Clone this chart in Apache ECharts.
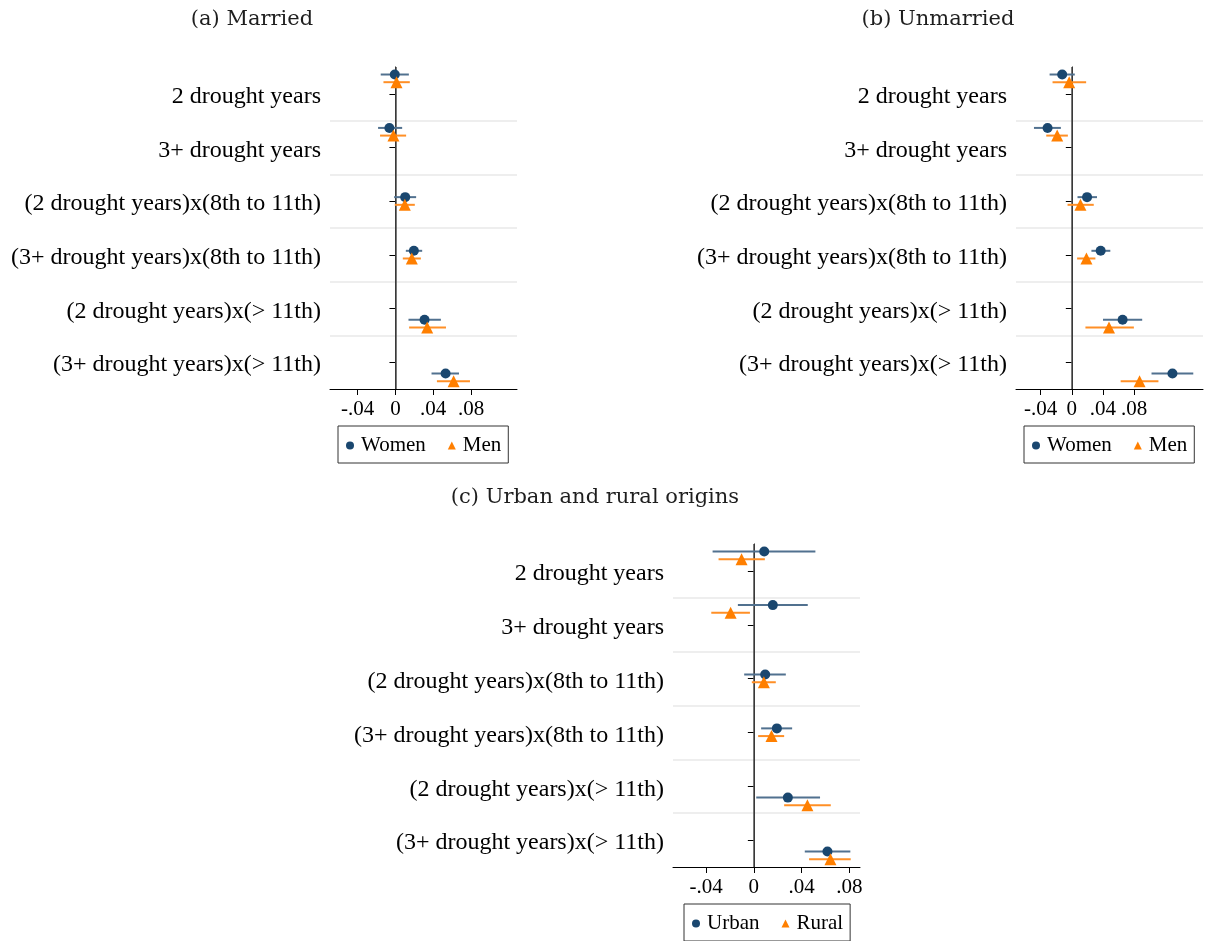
<!DOCTYPE html>
<html><head><meta charset="utf-8">
<script src="https://cdn.jsdelivr.net/npm/echarts@6/dist/echarts.min.js"></script>
<style>html,body{margin:0;padding:0;background:#fff}#c{width:1208px;height:941px}</style>
</head><body><div id="c"></div>
<script>
// ---------- data ----------
const categories = ['2 drought years','3+ drought years','(2 drought years)x(8th to 11th)','(3+ drought years)x(8th to 11th)','(2 drought years)x(> 11th)','(3+ drought years)x(> 11th)'];
const xTickValues = [-0.04, 0, 0.04, 0.08];
const xTickLabels = ['-.04', '0', '.04', '.08'];

// (a) Married
const marriedWomenEst = [-0.0007, -0.0064, 0.0103, 0.0195, 0.0308, 0.0531];
const marriedWomenLo  = [-0.0156, -0.0184, -0.0014, 0.0110, 0.0138, 0.0382];
const marriedWomenHi  = [0.0142, 0.0071, 0.0219, 0.0283, 0.0481, 0.0673];
const marriedMenEst = [0.0011, -0.0021, 0.0099, 0.0173, 0.0336, 0.0616];
const marriedMenLo  = [-0.0127, -0.0163, -0.0007, 0.0078, 0.0145, 0.0439];
const marriedMenHi  = [0.0152, 0.0113, 0.0205, 0.0269, 0.0535, 0.0789];

// (b) Unmarried
const unmarriedWomenEst = [-0.0124, -0.0312, 0.0196, 0.0371, 0.0653, 0.1294];
const unmarriedWomenLo  = [-0.0286, -0.0487, 0.0073, 0.0252, 0.0401, 0.1025];
const unmarriedWomenHi  = [0.0038, -0.0141, 0.0324, 0.0495, 0.0905, 0.1562];
const unmarriedMenEst = [-0.0034, -0.0188, 0.0111, 0.0188, 0.0478, 0.0871];
const unmarriedMenLo  = [-0.0248, -0.0329, -0.0055, 0.0068, 0.0175, 0.0628];
const unmarriedMenHi  = [0.0184, -0.0051, 0.0282, 0.0303, 0.0798, 0.1114];

// (c) Urban and rural origins
const urbanEst = [0.0087, 0.0159, 0.0095, 0.0193, 0.0285, 0.0617];
const urbanLo  = [-0.0346, -0.0134, -0.0081, 0.0061, 0.0020, 0.0427];
const urbanHi  = [0.0516, 0.0452, 0.0268, 0.0321, 0.0555, 0.0809];
const ruralEst = [-0.0103, -0.0195, 0.0084, 0.0148, 0.0449, 0.0642];
const ruralLo  = [-0.0296, -0.0357, -0.0017, 0.0036, 0.0254, 0.0463];
const ruralHi  = [0.0092, -0.0033, 0.0184, 0.0254, 0.0645, 0.0812];

// ---------- layout / style ----------
const rowShift = [-0.36, -0.365, -0.075, -0.075, 0.211, 0.211];
const secondShift = 0.143;
const BLUE = '#1a476f', BLUE_CI = '#51718f';
const ORANGE = '#ff7f00', ORANGE_CI = '#ff8f26';
const FONT = '"Liberation Serif", "Times New Roman", serif';
const TITLE_FONT = '"DejaVu Serif", serif';

const panels = [
  {title:'(a) Married', tx:252, ty:20, grid:{left:330, top:67, width:187, height:322},
   xmin:-0.0693, xmax:0.1287, s:[['Women', marriedWomenEst, marriedWomenLo, marriedWomenHi],['Men', marriedMenEst, marriedMenLo, marriedMenHi]],
   legend:{left:338, top:426}},
  {title:'(b) Unmarried', tx:938, ty:20, grid:{left:1016, top:67, width:187, height:322},
   xmin:-0.0718, xmax:0.1687, s:[['Women', unmarriedWomenEst, unmarriedWomenLo, unmarriedWomenHi],['Men', unmarriedMenEst, unmarriedMenLo, unmarriedMenHi]],
   legend:{left:1024, top:426}},
  {title:'(c) Urban and rural origins', tx:595, ty:498, grid:{left:673, top:544, width:187, height:323},
   xmin:-0.0678, xmax:0.089, s:[['Urban', urbanEst, urbanLo, urbanHi],['Rural', ruralEst, ruralLo, ruralHi]],
   legend:{left:684, top:904}}
];

const option = {
  animation:false, backgroundColor:'#fff',
  grid:[], xAxis:[], yAxis:[], series:[], legend:[], graphic:[]
};

panels.forEach((p, pi) => {
  option.graphic.push({type:'text', x:p.tx, y:p.ty, style:{text:p.title, fill:'#1e1e1e', font:'21px ' + TITLE_FONT, textAlign:'center', textVerticalAlign:'middle'}});
  option.grid.push(Object.assign({containLabel:false}, p.grid));
  option.xAxis.push({
    type:'value', gridIndex:pi, min:p.xmin, max:p.xmax,
    axisLine:{show:true, onZero:false, lineStyle:{color:'#000', width:1}},
    axisTick:{show:true, length:6, customValues:xTickValues, lineStyle:{color:'#000'}},
    axisLabel:{show:true, customValues:xTickValues, fontFamily:FONT, fontSize:21, color:'#000', margin:10,
      formatter:v => { const i = xTickValues.findIndex(t => Math.abs(t - v) < 1e-9); return i >= 0 ? xTickLabels[i] : ''; }},
    splitLine:{show:false}
  });
  option.yAxis.push({
    type:'category', gridIndex:pi, data:categories, inverse:true, boundaryGap:true,
    axisLine:{show:true, lineStyle:{color:'#000', width:1}},
    axisTick:{show:true, alignWithLabel:true, length:6, lineStyle:{color:'#000'}},
    axisLabel:{fontFamily:FONT, fontSize:24, color:'#000', margin:9, verticalAlign:'top', lineHeight:6},
    splitLine:{show:false}
  });
  option.yAxis.push({
    type:'value', gridIndex:pi, min:-0.5, max:5.5, interval:1, inverse:true,
    axisLine:{show:false}, axisTick:{show:false}, axisLabel:{show:false},
    splitLine:{show:true, lineStyle:{color:['rgba(0,0,0,0)','#e8e8e8','#e8e8e8','#e8e8e8','#e8e8e8','#e8e8e8','rgba(0,0,0,0)'], width:1.5}}
  });
  const yIdx = pi * 2 + 1;
  p.s.forEach((s, si) => {
    const [name, est, lo, hi] = s;
    const shift = si === 0 ? 0 : secondShift;
    const col = si === 0 ? BLUE : ORANGE;
    const ciCol = si === 0 ? BLUE_CI : ORANGE_CI;
    option.series.push({
      type:'custom', name:name + ' CI', xAxisIndex:pi, yAxisIndex:yIdx, silent:true, z:2,
      data: lo.map((l, i) => [l, hi[i], i + rowShift[i] + shift]),
      renderItem:(params, api) => {
        const a = api.coord([api.value(0), api.value(2)]);
        const b = api.coord([api.value(1), api.value(2)]);
        return {type:'line', shape:{x1:a[0], y1:a[1], x2:b[0], y2:b[1]}, style:{stroke:ciCol, lineWidth:2}};
      },
      encode:{x:[0,1], y:2}
    });
    const sc = {
      type:'scatter', name:name, xAxisIndex:pi, yAxisIndex:yIdx, z:3,
      symbol: si === 0 ? 'circle' : 'triangle', symbolSize: si === 0 ? 10 : 12,
      itemStyle:{color:col, opacity:1},
      data: est.map((v, i) => [v, i + rowShift[i] + shift])
    };
    if (si === 0) {
      sc.markLine = {silent:true, symbol:'none', label:{show:false}, z:1,
        lineStyle:{color:'#4d4d4d', width:1.5, type:'solid'}, data:[{xAxis:0}]};
    }
    option.series.push(sc);
  });
  option.legend.push({
    data:[{name:p.s[0][0], icon:'circle'}, {name:p.s[1][0], icon:'triangle'}],
    left:p.legend.left, top:p.legend.top, orient:'horizontal',
    borderColor:'#333', borderWidth:1, padding:[9,7,7,8], itemGap:22,
    itemWidth:8, itemHeight:8,
    textStyle:{fontFamily:FONT, fontSize:21, color:'#000', padding:[0,0,0,2]},
    selectedMode:false
  });
});

const chart = echarts.init(document.getElementById('c'), null, {renderer:'canvas'});
chart.setOption(option);
</script>
</body></html>
